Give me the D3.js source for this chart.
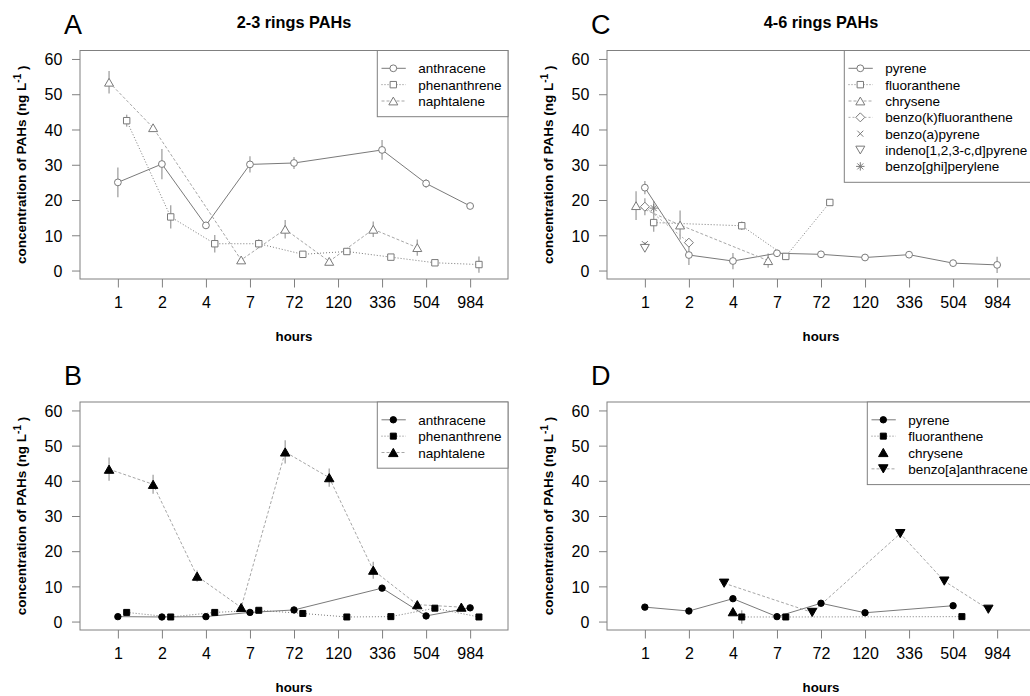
<!DOCTYPE html>
<html><head><meta charset="utf-8">
<script src="https://cdn.jsdelivr.net/npm/d3@7"></script>
<style>
body{margin:0;background:#fff}
text{font-family:"Liberation Sans",Arial,sans-serif}
</style>
</head><body>
<svg id="chart" width="1030" height="696"></svg>
<script>
// ---------- data ----------
const hours = ["1","2","4","7","72","120","336","504","984"];
const yTicks = [0,10,20,30,40,50,60];

// Panel A (2-3 rings, open symbols)
const A_anthracene      = [25.0, 30.2, 12.8, 30.1, 30.5, null, 34.2, 24.7, 18.3];
const A_anthracene_sd   = [4.2, 4.3, 0.8, 2.3, 1.7, null, 2.8, 1.2, 0.6];
const A_phenanthrene    = [42.5, 15.2, 7.6, 7.6, 4.6, 5.4, 3.8, 2.2, 1.7];
const A_phenanthrene_sd = [1.7, 3.3, 2.5, 1.3, 0.6, 0.8, 0.8, 0.5, 2.3];
const A_naphtalene      = [53.4, 40.5, null, 3.0, 11.7, 2.6, 11.7, 6.5, null];
const A_naphtalene_sd   = [3.2, 1.0, null, 0.4, 2.6, 0.5, 2.2, 2.3, null];

// Panel B (2-3 rings, filled symbols)
const B_anthracene      = [1.4, 1.3, 1.4, 2.6, 3.3, null, 9.5, 1.6, 3.9];
const B_anthracene_sd   = [0.3, 0.3, 0.3, 0.4, 0.4, null, 0.5, 0.3, 0.4];
const B_phenanthrene    = [2.6, 1.3, 2.6, 3.2, 2.3, 1.3, 1.4, 3.8, 1.3];
const B_phenanthrene_sd = [0.3, 0.3, 0.3, 0.3, 0.3, 0.3, 0.3, 0.4, 0.3];
const B_naphtalene      = [43.3, 39.0, 12.9, 4.0, 48.2, 40.9, 14.6, 4.8, 4.1];
const B_naphtalene_sd   = [3.3, 2.7, 1.6, 0.4, 3.3, 2.6, 2.4, 0.5, 0.5];

// Panel C (4-6 rings, open symbols)
const C_pyrene        = [23.5, 4.4, 2.7, 4.9, 4.6, 3.7, 4.5, 2.1, 1.6];
const C_pyrene_sd     = [1.9, 2.8, 2.3, 1.0, 0.6, 0.5, 0.5, 0.4, 2.3];
const C_fluoranthene    = [13.6, null, 12.7, 4.0, 19.3, null, null, null, null];
const C_fluoranthene_sd = [2.6, null, 1.2, 0.5, 0.6, null, null, null, null];
const C_chrysene      = [18.4, 12.9, null, 2.8, null, null, null, null, null];
const C_chrysene_sd   = [4.1, 4.1, null, 2.0, null, null, null, null, null];
const C_benzokf       = [18.1, 7.9, null, null, null, null, null, null, null];
const C_benzokf_sd    = [2.4, 0.8, null, null, null, null, null, null, null];
const C_benzoapyrene    = [7.5, null, null, null, null, null, null, null, null];
const C_benzoapyrene_sd = [0.5, null, null, null, null, null, null, null, null];
const C_indeno        = [6.3, null, null, null, null, null, null, null, null];
const C_indeno_sd     = [0.5, null, null, null, null, null, null, null, null];
const C_benzoghi      = [17.7, null, null, null, null, null, null, null, null];
const C_benzoghi_sd   = [2.0, null, null, null, null, null, null, null, null];

// Panel D (4-6 rings, filled symbols)
const D_pyrene        = [4.1, 3.0, 6.5, 1.4, 5.2, 2.5, null, 4.5, null];
const D_pyrene_sd     = [0.3, 0.3, 0.4, 0.3, 0.4, 0.3, null, 0.4, null];
const D_fluoranthene    = [null, null, 1.3, 1.3, null, null, null, 1.4, null];
const D_fluoranthene_sd = [null, null, 1.9, 0.3, null, null, null, 0.3, null];
const D_chrysene      = [null, null, 2.8, null, null, null, null, null, null];
const D_chrysene_sd   = [null, null, 0.3, null, null, null, null, null, null];
const D_benzoaanth    = [null, null, 10.9, null, 2.6, null, 25.0, 11.5, 3.5];
const D_benzoaanth_sd = [null, null, 0.4, null, 0.3, null, 0.5, 0.5, 0.4];

// ---------- styles ----------
const LINE = {
  solid:  {dash:null,  color:"#7a7a7a"},
  dotted: {dash:"1,2", color:"#7a7a7a"},
  dashed: {dash:"3,2", color:"#a6a6a6"},
  dash2:  {dash:"2,2", color:"#b0b0b0"}
};

const panels = [
  {letter:"A", title:"2-3 rings PAHs", left:80, top:50.5, bottom:279, filled:false, series:[
    {name:"anthracene", v:A_anthracene, sd:A_anthracene_sd, off:0, shape:"circle", line:"solid"},
    {name:"phenanthrene", v:A_phenanthrene, sd:A_phenanthrene_sd, off:0.2, shape:"square", line:"dotted"},
    {name:"naphtalene", v:A_naphtalene, sd:A_naphtalene_sd, off:-0.2, shape:"triUp", line:"dashed"}
  ]},
  {letter:"B", title:null, left:80, top:402, bottom:630, filled:true, series:[
    {name:"anthracene", v:B_anthracene, sd:B_anthracene_sd, off:0, shape:"circle", line:"solid"},
    {name:"phenanthrene", v:B_phenanthrene, sd:B_phenanthrene_sd, off:0.2, shape:"square", line:"dotted"},
    {name:"naphtalene", v:B_naphtalene, sd:B_naphtalene_sd, off:-0.2, shape:"triUp", line:"dashed"}
  ]},
  {letter:"C", title:"4-6 rings PAHs", left:607, top:50.5, bottom:279, filled:false, series:[
    {name:"pyrene", v:C_pyrene, sd:C_pyrene_sd, off:0, shape:"circle", line:"solid"},
    {name:"fluoranthene", v:C_fluoranthene, sd:C_fluoranthene_sd, off:0.2, shape:"square", line:"dotted"},
    {name:"chrysene", v:C_chrysene, sd:C_chrysene_sd, off:-0.2, shape:"triUp", line:"dashed"},
    {name:"benzo(k)fluoranthene", v:C_benzokf, sd:C_benzokf_sd, off:0, shape:"diamond", line:"dash2"},
    {name:"benzo(a)pyrene", v:C_benzoapyrene, sd:C_benzoapyrene_sd, off:0, shape:"x", line:null},
    {name:"indeno[1,2,3-c,d]pyrene", v:C_indeno, sd:C_indeno_sd, off:0, shape:"triDown", line:null},
    {name:"benzo[ghi]perylene", v:C_benzoghi, sd:C_benzoghi_sd, off:0.2, shape:"asterisk", line:null}
  ]},
  {letter:"D", title:null, left:607, top:402, bottom:630, filled:true, series:[
    {name:"pyrene", v:D_pyrene, sd:D_pyrene_sd, off:0, shape:"circle", line:"solid"},
    {name:"fluoranthene", v:D_fluoranthene, sd:D_fluoranthene_sd, off:0.2, shape:"square", line:"dotted"},
    {name:"chrysene", v:D_chrysene, sd:D_chrysene_sd, off:0, shape:"triUp", line:null},
    {name:"benzo[a]anthracene", v:D_benzoaanth, sd:D_benzoaanth_sd, off:-0.2, shape:"triDown", line:"dashed"}
  ]}
];

function shapePath(shape, filled){
  const k = filled ? 1.05 : 1;
  switch(shape){
    case "circle": { const r = (filled?3.2:3.4); return `M${r},0A${r},${r} 0 1,1 ${-r},0A${r},${r} 0 1,1 ${r},0Z`; }
    case "square": { const s = filled?3.0:3.2; return `M${-s},${-s}H${s}V${s}H${-s}Z`; }
    case "triUp": { const h=3.9*k, w=4.5*k; return `M0,${-h}L${w},${h}L${-w},${h}Z`; }
    case "triDown": { const h=3.9*k, w=4.5*k; return `M0,${h}L${w},${-h}L${-w},${-h}Z`; }
    case "diamond": { const r=4.5; return `M0,${-r}L${r},0L0,${r}L${-r},0Z`; }
    case "x": { const r=3; return `M${-r},${-r}L${r},${r}M${-r},${r}L${r},${-r}`; }
    case "asterisk": { const r=3, q=4.2; return `M${-r},${-r}L${r},${r}M${-r},${r}L${r},${-r}M0,${-q}V${q}M${-q},0H${q}`; }
  }
}

const svg = d3.select("#chart");
const W = 428;

panels.forEach(p => {
  const x = d3.scaleLinear().domain([0.14, 9.86]).range([p.left, p.left + W]);
  const y = d3.scaleLinear().domain([-2.4, 62.4]).range([p.bottom, p.top]);
  const g = svg.append("g");
  const symColor = p.filled ? "#000" : "#7a7a7a";

  // x axis
  const xa = g.append("g").attr("transform", `translate(0,${p.bottom})`)
    .call(d3.axisBottom(x).tickValues(d3.range(1, 10)).tickFormat(i => hours[i-1]).tickSize(8.5).tickSizeOuter(0));
  xa.select(".domain").remove();
  xa.selectAll("line").attr("stroke", "#808080");
  xa.selectAll("text").attr("y", 29.3).attr("dy", null).attr("fill", "#000")
    .style("font-size", "16px").style("font-family", '"Liberation Sans",Arial,sans-serif');

  // y axis
  const ya = g.append("g").attr("transform", `translate(${p.left},0)`)
    .call(d3.axisLeft(y).tickValues(yTicks).tickSize(8).tickSizeOuter(0));
  ya.select(".domain").remove();
  ya.selectAll("line").attr("stroke", "#808080");
  ya.selectAll("text").attr("x", -17.7).attr("dy", "0.36em").attr("fill", "#000")
    .style("font-size", "16px").style("font-family", '"Liberation Sans",Arial,sans-serif');

  // plot box
  g.append("rect").attr("x", p.left).attr("y", p.top).attr("width", W).attr("height", p.bottom - p.top)
    .attr("fill", "none").attr("stroke", "#808080").attr("stroke-width", 1);

  // panel letter
  g.append("text").attr("x", p.left - 16).attr("y", p.top - 17).text(p.letter)
    .style("font-size", "27px").attr("fill", "#000");

  // title
  if (p.title) {
    g.append("text").attr("x", p.left + 214).attr("y", p.top - 22.3).attr("text-anchor", "middle")
      .style("font-size", "16.3px").style("font-weight", "bold").text(p.title);
  }

  // axis titles
  g.append("text").attr("x", p.left + 214).attr("y", p.bottom + 62).attr("text-anchor", "middle")
    .style("font-size", "13.3px").style("font-weight", "bold").text("hours");
  const yl = g.append("text")
    .attr("transform", `translate(${p.left - 54.5},${(p.top + p.bottom) / 2}) rotate(-90)`)
    .attr("text-anchor", "middle").style("font-size", "13.5px").style("font-weight", "bold");
  yl.append("tspan").text("concentration of PAHs (ng L");
  yl.append("tspan").attr("dy", "-0.45em").style("font-size", "10px").text("-1");
  yl.append("tspan").attr("dy", "0.45em").text(" )");

  const gErr = g.append("g"), gLine = g.append("g"), gPts = g.append("g");

  p.series.forEach(s => {
    const pts = s.v.map((v, i) => v == null ? null : {x: i + 1 + s.off, y: v, sd: s.sd[i] || 0}).filter(d => d);
    // error bars
    gErr.selectAll(null).data(pts.filter(d => d.sd > 0)).join("line")
      .attr("x1", d => x(d.x)).attr("x2", d => x(d.x))
      .attr("y1", d => y(d.y - d.sd)).attr("y2", d => y(d.y + d.sd))
      .attr("stroke", "#a8a8a8").attr("stroke-width", 1.4);
    // lines
    if (s.line && pts.length > 1) {
      const st = LINE[s.line];
      gLine.append("path").datum(pts)
        .attr("d", d3.line().x(d => x(d.x)).y(d => y(d.y)))
        .attr("fill", "none").attr("stroke", st.color).attr("stroke-width", 1)
        .attr("stroke-dasharray", st.dash);
    }
    // points
    const open = !p.filled;
    gPts.selectAll(null).data(pts).join("path")
      .attr("transform", d => `translate(${x(d.x)},${y(d.y)})`)
      .attr("d", shapePath(s.shape, p.filled))
      .attr("fill", (s.shape === "x" || s.shape === "asterisk") ? "none" : (open ? "#fff" : "#000"))
      .attr("stroke", symColor).attr("stroke-width", 1);
  });

  // legend
  const n = p.series.length;
  const lgLeft = p.filled ? (p.left === 80 ? 377.3 : 867.3) : (p.left === 80 ? 377.3 : 844.3);
  const lgW = p.left + W - lgLeft;
  const lgH = 17 + n * 16.4;
  const lg = g.append("g");
  lg.append("rect").attr("x", lgLeft).attr("y", p.top).attr("width", lgW).attr("height", lgH)
    .attr("fill", "#fff").attr("stroke", "#808080").attr("stroke-width", 1);
  p.series.forEach((s, i) => {
    const cy = p.top + 17.8 + i * 16.35;
    if (s.line) {
      const st = LINE[s.line];
      lg.append("line").attr("x1", lgLeft + 4.2).attr("x2", lgLeft + 28.5).attr("y1", cy).attr("y2", cy)
        .attr("stroke", st.color).attr("stroke-width", 1).attr("stroke-dasharray", st.dash);
    }
    lg.append("path").attr("transform", `translate(${lgLeft + 16},${cy})`)
      .attr("d", shapePath(s.shape, p.filled))
      .attr("fill", (s.shape === "x" || s.shape === "asterisk") ? "none" : (p.filled ? "#000" : "#fff"))
      .attr("stroke", symColor).attr("stroke-width", 1);
    lg.append("text").attr("x", lgLeft + 41).attr("y", cy + 5).style("font-size", "13.5px")
      .attr("fill", "#000").text(s.name);
  });
});
</script>
</body></html>
